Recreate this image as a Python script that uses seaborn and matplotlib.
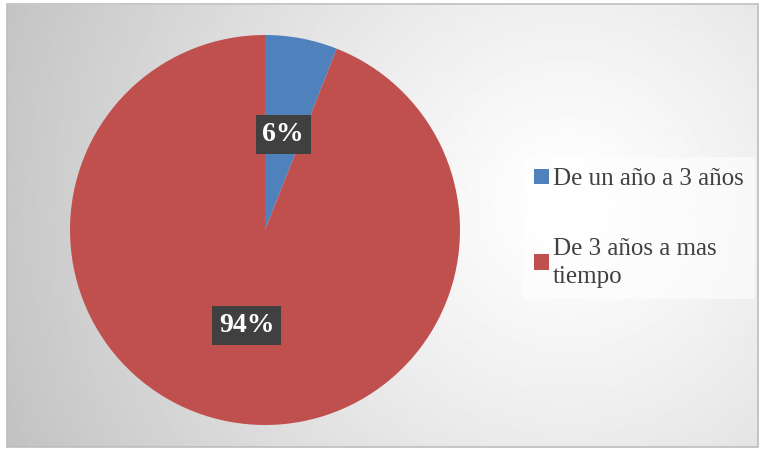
import numpy as np
import seaborn as sns
import matplotlib.pyplot as plt
from matplotlib.patches import Patch, Rectangle

# data
categories = ['De un año a 3 años', 'De 3 años a mas\ntiempo']
shares = [6, 94]
colors = ['#4F81BD', '#C0504D']

sns.set_theme(style="white")
plt.rcParams['font.family'] = ['Liberation Serif', 'DejaVu Serif']
plt.rcParams['hatch.color'] = '#5c5c5c'
plt.rcParams['hatch.linewidth'] = 1.2

W, H = 760, 449
fig = plt.figure(figsize=(W / 100, H / 100), dpi=100)
fig.patch.set_facecolor('white')

# radial gradient background of the chart area
bg = fig.add_axes([7 / W, 2 / H, 751 / W, 442 / H])
yy, xx = np.mgrid[0:442, 0:751]
d = np.hypot(xx - 560, yy - 200)
val = 1 - 0.24 * (d / d.max()) ** 1.2
bg.imshow(val, cmap='gray', vmin=0, vmax=1, aspect='auto', interpolation='bilinear')
bg.set_axis_off()
fig.add_artist(Rectangle((7 / W, 2 / H), 751 / W, 443 / H, transform=fig.transFigure,
                         fill=False, edgecolor='#bdbdbd', lw=1.2))

# pie
ax = fig.add_axes([70 / W, 24 / H, 390 / W, 390 / H])
wedges, texts, autotexts = ax.pie(
    shares, colors=colors, startangle=90, counterclock=False, radius=1,
    autopct='%1.0f%%', pctdistance=0.5,
    wedgeprops=dict(linewidth=0),
    textprops=dict(color='white', fontsize=20, fontweight='bold'))
for t in autotexts:
    t.set_bbox(dict(boxstyle='square,pad=0.25', facecolor='#404040', edgecolor='#404040',
                    hatch='.', linewidth=0))
ax.set_xlim(-1, 1)
ax.set_ylim(-1, 1)
ax.set_aspect('auto')
ax.set_axis_off()

# legend
handles = [Patch(facecolor=c, edgecolor='none') for c in colors]
leg = fig.legend(handles, categories, loc='upper left',
                 bbox_to_anchor=(523 / W, 1 - 157 / H), frameon=True,
                 fontsize=18, handlelength=0.6, handleheight=0.6, handletextpad=0.15,
                 labelspacing=1.9, borderpad=0.45, borderaxespad=0, fancybox=False)
leg.get_frame().set_facecolor('white')
leg.get_frame().set_alpha(0.6)
leg.get_frame().set_edgecolor('none')
for t in leg.get_texts():
    t.set_color('#404040')
    t.set_linespacing(1.35)

fig.savefig('out.png', dpi=100)
